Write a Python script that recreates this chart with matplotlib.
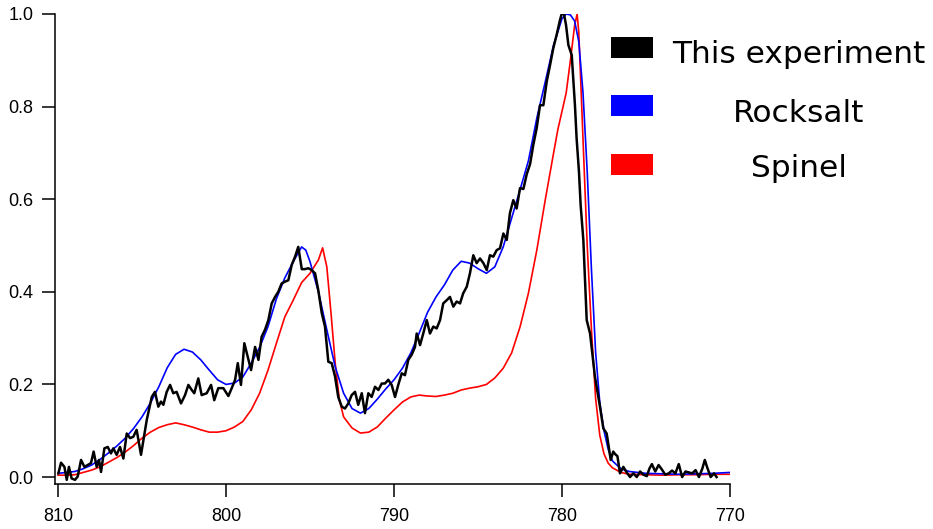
import matplotlib.pyplot as plt
from matplotlib.patches import Rectangle

# photon energy (eV) and normalised intensity for each spectrum
exp_energy = [
    809.98, 809.82, 809.62, 809.48, 809.35, 809.19, 808.99, 808.83, 808.63, 808.43,
    808.23, 808.04, 807.88, 807.70, 807.56, 807.44, 807.24, 807.04, 806.85, 806.71,
    806.51, 806.31, 806.11, 805.91, 805.71, 805.52, 805.32, 805.06, 804.72, 804.42,
    804.23, 804.03, 803.87, 803.73, 803.53, 803.33, 803.14, 802.94, 802.68, 802.44,
    802.24, 802.04, 801.89, 801.65, 801.45, 801.15, 800.89, 800.70, 800.46, 800.16,
    799.86, 799.66, 799.46, 799.30, 799.11, 798.91, 798.71, 798.51, 798.27, 798.07,
    797.88, 797.68, 797.48, 797.28, 797.08, 796.89, 796.69, 796.49, 796.29, 796.09,
    795.89, 795.70, 795.49, 795.30, 795.10, 794.90, 794.70, 794.51, 794.30, 794.11,
    793.91, 793.71, 793.51, 793.32, 793.11, 792.92, 792.72, 792.52, 792.32, 792.13,
    791.92, 791.73, 791.53, 791.33, 791.13, 790.93, 790.73, 790.54, 790.34, 790.14,
    789.94, 789.74, 789.54, 789.35, 789.15, 788.95, 788.75, 788.65, 788.45, 788.26,
    788.05, 787.86, 787.66, 787.46, 787.26, 787.07, 786.86, 786.67, 786.47, 786.27,
    786.07, 785.88, 785.67, 785.48, 785.28, 785.08, 784.88, 784.68, 784.48, 784.29,
    784.09, 783.89, 783.69, 783.49, 783.29, 783.10, 782.90, 782.70, 782.50, 782.30,
    782.10, 781.90, 781.71, 781.51, 781.31, 781.11, 780.91, 780.71, 780.52, 780.32,
    780.12, 780.02, 779.88, 779.76, 779.62, 779.42, 779.23, 779.13, 778.99, 778.89,
    778.73, 778.53, 778.33, 778.04, 777.74, 777.54, 777.34, 777.10, 776.95, 776.85,
    776.70, 776.55, 776.35, 776.15, 775.95, 775.75, 775.55, 775.35, 775.15, 774.95,
    774.80, 774.65, 774.45, 774.25, 774.05, 773.85, 773.65, 773.45, 773.25, 773.05,
    772.85, 772.65, 772.45, 772.25, 772.05, 771.85, 771.65, 771.50, 771.35, 771.15,
    770.95, 770.80,
]
exp_intensity = [
    0.008, 0.031, 0.022, -0.006, 0.022, -0.003, -0.006, 0.001, 0.037, 0.022,
    0.026, 0.030, 0.055, 0.022, 0.037, 0.011, 0.062, 0.065, 0.051, 0.062,
    0.048, 0.065, 0.040, 0.094, 0.084, 0.087, 0.102, 0.048, 0.123, 0.173,
    0.184, 0.152, 0.163, 0.156, 0.184, 0.199, 0.181, 0.184, 0.159, 0.177,
    0.199, 0.188, 0.181, 0.213, 0.177, 0.181, 0.199, 0.166, 0.192, 0.192,
    0.175, 0.192, 0.210, 0.246, 0.199, 0.289, 0.260, 0.231, 0.281, 0.253,
    0.303, 0.318, 0.339, 0.375, 0.389, 0.400, 0.418, 0.422, 0.425, 0.458,
    0.476, 0.497, 0.449, 0.449, 0.451, 0.447, 0.440, 0.404, 0.354, 0.325,
    0.249, 0.246, 0.217, 0.173, 0.152, 0.148, 0.159, 0.177, 0.184, 0.156,
    0.181, 0.138, 0.181, 0.173, 0.195, 0.188, 0.202, 0.202, 0.210, 0.199,
    0.173, 0.200, 0.224, 0.220, 0.253, 0.264, 0.281, 0.310, 0.285, 0.310,
    0.339, 0.310, 0.325, 0.321, 0.339, 0.375, 0.382, 0.389, 0.368, 0.379,
    0.375, 0.397, 0.411, 0.440, 0.479, 0.462, 0.472, 0.462, 0.447, 0.479,
    0.476, 0.490, 0.494, 0.526, 0.512, 0.570, 0.598, 0.580, 0.624, 0.622,
    0.654, 0.676, 0.717, 0.753, 0.803, 0.803, 0.854, 0.890, 0.926, 0.955,
    0.987, 1.000, 1.000, 0.976, 0.933, 0.911, 0.803, 0.731, 0.659, 0.587,
    0.512, 0.339, 0.310, 0.217, 0.152, 0.105, 0.094, 0.037, 0.055, 0.050,
    0.045, 0.008, 0.022, 0.010, 0.000, 0.008, 0.000, 0.012, 0.005, 0.002,
    0.018, 0.028, 0.012, 0.026, 0.016, 0.005, 0.008, 0.014, 0.008, 0.028,
    0.000, 0.012, 0.010, 0.008, 0.015, 0.000, 0.018, 0.037, 0.020, 0.000,
    0.008, 0.000,
]

rocksalt_energy = [
    810.0, 809.5, 809.0, 808.5, 808.0, 807.5, 807.0, 806.5, 806.0, 805.5,
    805.0, 804.5, 804.0, 803.5, 803.0, 802.5, 802.0, 801.5, 801.0, 800.5,
    800.0, 799.5, 799.0, 798.5, 798.0, 797.5, 797.0, 796.5, 796.0, 795.5,
    795.25, 795.0, 794.5, 794.0, 793.5, 793.0, 792.5, 792.0, 791.5, 791.0,
    790.5, 790.0, 789.5, 789.0, 788.5, 788.0, 787.5, 787.0, 786.5, 786.0,
    785.5, 785.0, 784.5, 784.0, 783.5, 783.0, 782.5, 782.0, 781.5, 781.0,
    780.5, 780.0, 779.75, 779.5, 779.25, 779.0, 778.75, 778.5, 778.25, 778.0,
    777.75, 777.5, 777.25, 777.0, 776.5, 776.0, 775.0, 774.0, 773.0, 772.0,
    771.0, 770.0,
]
rocksalt_intensity = [
    0.008, 0.010, 0.012, 0.018, 0.026, 0.038, 0.052, 0.067, 0.084, 0.105,
    0.130, 0.160, 0.195, 0.236, 0.265, 0.276, 0.270, 0.253, 0.231, 0.210,
    0.200, 0.203, 0.216, 0.246, 0.280, 0.325, 0.385, 0.430, 0.465, 0.497,
    0.490, 0.465, 0.400, 0.318, 0.238, 0.181, 0.148, 0.138, 0.148, 0.168,
    0.190, 0.210, 0.235, 0.268, 0.311, 0.356, 0.389, 0.415, 0.447, 0.466,
    0.462, 0.450, 0.440, 0.454, 0.497, 0.559, 0.620, 0.683, 0.775, 0.853,
    0.933, 0.990, 1.000, 0.998, 0.985, 0.940, 0.830, 0.660, 0.450, 0.270,
    0.160, 0.100, 0.060, 0.035, 0.018, 0.012, 0.008, 0.007, 0.006, 0.007,
    0.008, 0.010,
]

spinel_energy = [
    810.0, 809.5, 809.0, 808.5, 808.0, 807.5, 807.0, 806.5, 806.0, 805.5,
    805.0, 804.5, 804.0, 803.5, 803.0, 802.5, 802.0, 801.5, 801.0, 800.5,
    800.0, 799.5, 799.0, 798.5, 798.0, 797.5, 797.0, 796.5, 796.0, 795.5,
    795.0, 794.5, 794.25, 794.0, 793.75, 793.5, 793.25, 793.0, 792.5, 792.0,
    791.5, 791.0, 790.5, 790.0, 789.5, 789.0, 788.5, 788.0, 787.5, 787.0,
    786.5, 786.0, 785.5, 785.0, 784.5, 784.0, 783.5, 783.0, 782.5, 782.0,
    781.5, 781.0, 780.5, 780.25, 780.0, 779.75, 779.5, 779.25, 779.1, 779.0,
    778.75, 778.5, 778.25, 778.0, 777.75, 777.5, 777.25, 777.0, 776.5, 776.0,
    775.0, 774.0, 773.0, 772.0, 771.0, 770.0,
]
spinel_intensity = [
    0.004, 0.004, 0.005, 0.010, 0.015, 0.022, 0.032, 0.042, 0.054, 0.068,
    0.084, 0.097, 0.107, 0.113, 0.117, 0.113, 0.108, 0.102, 0.097, 0.097,
    0.100, 0.108, 0.120, 0.145, 0.181, 0.231, 0.289, 0.346, 0.382, 0.420,
    0.440, 0.469, 0.495, 0.454, 0.354, 0.246, 0.166, 0.130, 0.106, 0.095,
    0.097, 0.108, 0.127, 0.145, 0.162, 0.173, 0.177, 0.175, 0.174, 0.177,
    0.181, 0.188, 0.192, 0.195, 0.200, 0.214, 0.235, 0.268, 0.324, 0.397,
    0.490, 0.598, 0.700, 0.750, 0.790, 0.830, 0.900, 0.975, 1.000, 0.960,
    0.730, 0.500, 0.320, 0.170, 0.090, 0.050, 0.030, 0.020, 0.010, 0.006,
    0.005, 0.004, 0.005, 0.005, 0.006, 0.006,
]

series = [
    ("This experiment", exp_energy, exp_intensity, "#000000", 1.8),
    ("Rocksalt", rocksalt_energy, rocksalt_intensity, "#0000ff", 1.2),
    ("Spinel", spinel_energy, spinel_intensity, "#ff0000", 1.2),
]

W, H = 933, 529
fig = plt.figure(figsize=(W / 100, H / 100), dpi=100)
ax = fig.add_axes([55 / W, 1 - 484 / H, 675 / W, 470 / H])

# draw red first, black last so the measurement sits on top
for name, x, y, color, lw in reversed(series):
    ax.plot(x, y, color=color, lw=lw, solid_joinstyle="round")

ax.set_xlim(810.18, 770)
ax.set_ylim(-0.015, 1.0)
ax.set_xticks([810, 800, 790, 780, 770])
ax.set_yticks([0.0, 0.2, 0.4, 0.6, 0.8, 1.0])
ax.set_yticklabels(["0.0", "0.2", "0.4", "0.6", "0.8", "1.0"])
for side in ("top", "right"):
    ax.spines[side].set_visible(False)
for side in ("left", "bottom"):
    ax.spines[side].set_linewidth(1.1)
ax.tick_params(direction="out", length=9.5, width=1.1, labelsize=13,
               labelfontfamily="Liberation Sans")
ax.tick_params(axis="y", pad=6)
ax.tick_params(axis="x", pad=8)

# legend: colour swatch plus centred label
rows_y = [47.5, 105.5, 164.5]
text_y = [63, 122, 177]
for (name, _, _, color, _), ry, ty in zip(series, rows_y, text_y):
    fig.add_artist(Rectangle((611 / W, 1 - (ry + 10.5) / H), 42 / W, 21 / H,
                             transform=fig.transFigure, color=color, lw=0))
    fig.text(799 / W, 1 - ty / H, name, ha="center", va="baseline",
             fontsize=22.5, family="DejaVu Sans")

fig.savefig("out.png", dpi=100)
